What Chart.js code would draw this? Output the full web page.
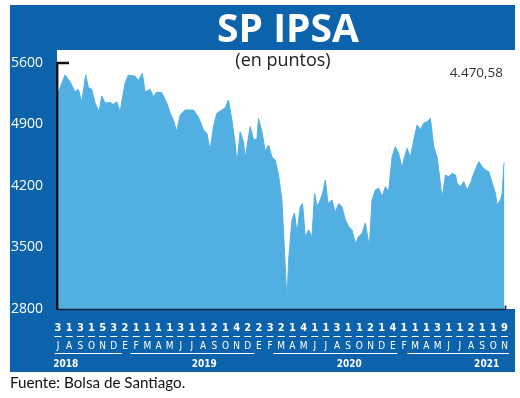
<!DOCTYPE html>
<html>
<head>
<meta charset="utf-8">
<script src="https://cdn.jsdelivr.net/npm/chart.js@4.4.1/dist/chart.umd.min.js"></script>
<style>
html,body{margin:0;padding:0;background:#fff;}
#wrap{width:520px;height:398px;position:relative;}
</style>
</head>
<body>
<div id="wrap"><canvas id="c" width="520" height="398"></canvas></div>
<script>
// ---- texts ----
const chartTitle = 'SP IPSA';
const chartSubtitle = '(en puntos)';
const lastValueLabel = '4.470,58';
const sourceNote = 'Fuente: Bolsa de Santiago.';

// ---- axis ticks / labels ----
const yTickValues = [2800, 3500, 4200, 4900, 5600];
const monthLetters = ['J','A','S','O','N','D',
  'E','F','M','A','M','J','J','A','S','O','N','D',
  'E','F','M','A','M','J','J','A','S','O','N','D',
  'E','F','M','A','M','J','J','A','S','O','N'];
const monthDays = ['3','1','3','1','5','3',
  '2','1','1','1','1','3','1','1','2','1','4','2',
  '2','3','2','1','4','1','1','3','1','1','2','1',
  '4','1','1','1','3','1','1','2','1','1','9'];
const years = ['2018','2019','2020','2021'];

// ---- series (x = months since July 2018, y = index points) ----
const monthPos = [0,0.63,1.08,1.52,1.82,2.13,2.48,2.72,3.02,3.32,3.68,3.92,4.22,4.66,4.96,5.26,5.56,
  6.01,6.30,6.91,7.20,7.56,7.80,8.25,8.55,8.85,9.30,9.75,10.04,10.34,10.64,10.94,11.39,12.13,12.58,
  13.03,13.34,13.63,13.93,14.23,14.68,14.98,15.27,15.58,15.87,16.03,16.32,16.62,16.77,17.07,17.22,
  17.52,17.82,17.96,18.27,18.57,18.86,19.17,19.46,19.76,20.06,20.36,20.51,20.66,20.96,21.19,21.41,
  21.70,21.91,22.15,22.45,22.75,22.99,23.20,23.50,23.70,23.95,24.19,24.55,24.84,25.14,25.44,25.74,
  26.04,26.34,26.64,26.93,27.24,27.53,27.89,28.13,28.43,28.73,29.03,29.33,29.62,29.93,30.22,30.52,
  30.83,30.97,31.27,31.57,31.87,32.17,32.47,32.76,33.07,33.36,33.52,33.66,33.96,34.11,34.41,34.71,
  35.00,35.31,35.61,35.76,36.05,36.35,36.65,36.95,37.25,37.70,38.00,38.30,38.59,38.90,39.19,39.34,
  39.64,39.79,39.94,40.00];
const ipsa = [5259,5463,5387,5273,5300,5160,5463,5320,5300,5145,5046,5224,5145,5150,5130,5160,5046,
  5369,5463,5450,5400,5483,5270,5300,5217,5270,5260,5145,5030,4950,4818,5008,5065,5065,4985,
  4837,4800,4610,4876,5027,5065,5090,5179,4951,4686,4458,4818,4700,4515,4761,4876,
  4730,4730,4970,4818,4591,4667,4530,4496,4325,4041,3282,2884,3358,3813,3893,3666,
  3965,4000,3624,3700,3624,4117,3965,4041,4117,4268,4000,4041,3900,4000,3965,3813,
  3740,3700,3548,3624,3660,3780,3510,4041,4155,4175,4080,4193,4136,4534,4648,4570,
  4400,4496,4629,4530,4724,4895,4840,4915,4930,4970,4800,4648,4530,4382,4060,4325,
  4306,4344,4325,4230,4193,4250,4155,4230,4344,4477,4420,4382,4363,4230,4117,3984,
  4041,4117,4439,4470.58];

// ---- styling / layout ----
const FRAME_BLUE = '#0c63ab';
const FILL_BLUE = '#52afe2';
const COND = '"Liberation Sans Narrow","DejaVu Sans Condensed","Open Sans",sans-serif';
const yearUnderline = [[-0.3,5.7],[6.5,17.6],[19.3,30.4],[31.3,40.4]];
const yearLabelAt = [0.7,13.1,26.1,38.4];

const points = monthPos.map((m, i) => ({x: m, y: ipsa[i]}));

const decor = {
  id: 'decor',
  beforeDraw(chart) {
    const ctx = chart.ctx, a = chart.chartArea;
    ctx.save();
    ctx.fillStyle = '#fff';
    ctx.fillRect(0, 0, chart.width, chart.height);
    ctx.fillStyle = FRAME_BLUE;
    ctx.fillRect(10, 5, 505, 367);
    ctx.fillStyle = '#fff';
    ctx.fillRect(57, 50, chart.width - 57, a.bottom - 50);
    ctx.restore();
  },
  afterDraw(chart) {
    const ctx = chart.ctx, a = chart.chartArea;
    const xs = chart.scales.x, ys = chart.scales.y;
    ctx.save();
    // axis frame lines
    const yTop = ys.getPixelForValue(5600);
    const xEnd = xs.getPixelForValue(40) + 1;
    ctx.strokeStyle = '#111';
    ctx.lineWidth = 2.4;
    ctx.beginPath();
    ctx.moveTo(a.left + 11, yTop);
    ctx.lineTo(a.left - 0.8, yTop);
    ctx.lineTo(a.left - 0.8, a.bottom + 1);
    ctx.stroke();
    ctx.strokeStyle = '#17233a';
    ctx.lineWidth = 1.6;
    ctx.beginPath();
    ctx.moveTo(a.left - 1, a.bottom + 0.5);
    ctx.lineTo(xEnd, a.bottom + 0.5);
    ctx.lineTo(xEnd, a.bottom - 3.5);
    ctx.stroke();

    // x axis: days, dashes, month letters
    ctx.fillStyle = '#fff';
    ctx.strokeStyle = '#fff';
    ctx.textAlign = 'center';
    ctx.textBaseline = 'alphabetic';
    for (let i = 0; i < monthLetters.length; i++) {
      const px = xs.getPixelForValue(i);
      ctx.font = 'bold 11px ' + COND;
      ctx.fillText(monthDays[i], px, 331);
      ctx.lineWidth = 1;
      ctx.beginPath();
      ctx.moveTo(px - 3.5, 336.5);
      ctx.lineTo(px + 3.5, 336.5);
      ctx.stroke();
      ctx.font = '10px ' + COND;
      ctx.fillText(monthLetters[i], px, 349);
    }
    // year underlines and labels
    ctx.lineWidth = 1;
    for (let k = 0; k < years.length; k++) {
      const u = yearUnderline[k];
      ctx.beginPath();
      ctx.moveTo(xs.getPixelForValue(u[0]), 353.5);
      ctx.lineTo(xs.getPixelForValue(u[1]), 353.5);
      ctx.stroke();
      ctx.font = 'bold 10px ' + COND;
      ctx.fillText(years[k], xs.getPixelForValue(yearLabelAt[k]), 367);
    }

    // titles
    ctx.font = 'bold 39px "Open Sans", sans-serif';
    ctx.fillStyle = '#fff';
    ctx.fillText(chartTitle, 288, 42);
    ctx.font = '18px "Open Sans", sans-serif';
    ctx.fillStyle = '#222';
    ctx.fillText(chartSubtitle, 283, 66);
    ctx.textAlign = 'right';
    ctx.font = '13.5px "Open Sans", sans-serif';
    ctx.fillStyle = '#333';
    ctx.fillText(lastValueLabel, 503, 77);
    ctx.textAlign = 'left';
    ctx.font = '15.2px "Lato", "Open Sans", sans-serif';
    ctx.fillStyle = '#111';
    ctx.fillText(sourceNote, 10, 388);
    ctx.restore();
  }
};

new Chart(document.getElementById('c'), {
  type: 'line',
  data: {
    datasets: [{
      data: points,
      fill: 'start',
      backgroundColor: FILL_BLUE,
      borderColor: FILL_BLUE,
      borderWidth: 1,
      pointRadius: 0,
      tension: 0
    }]
  },
  options: {
    responsive: false,
    animation: false,
    devicePixelRatio: 1,
    layout: { padding: { left: 10, top: 63, right: 15.5, bottom: 89 } },
    plugins: { legend: { display: false }, tooltip: { enabled: false }, title: { display: false } },
    scales: {
      x: { type: 'linear', min: 0, max: 40, display: false },
      y: {
        min: 2800, max: 5600,
        afterBuildTicks: s => { s.ticks = yTickValues.map(v => ({value: v})); },
        afterFit: s => { s.width = 48; s.paddingTop = 0; s.paddingBottom = 0; },
        ticks: {
          color: '#fff', padding: 7,
          font: { family: '"Open Sans", sans-serif', size: 14 },
          callback: v => String(v)
        },
        grid: { display: false },
        border: { display: false }
      }
    }
  },
  plugins: [decor]
});
</script>
</body>
</html>
